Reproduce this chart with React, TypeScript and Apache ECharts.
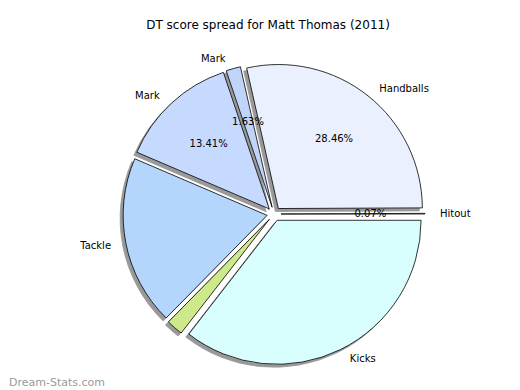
import React, { useEffect, useRef } from "react";
import * as echarts from "echarts";

const TITLE = "DT score spread for Matt Thomas (2011)";
const WATERMARK = "Dream-Stats.com";
const categories = ["Hitout", "Handballs", "Mark", "Mark", "Tackle", "Free kick", "Kicks"];
const values = [0.07, 28.46, 1.63, 13.41, 19.06, 1.87, 35.5];
const colors = ["#FFFFFF", "#EAF0FD", "#C0D4F8", "#C6D9FF", "#B4D6FD", "#CDE98C", "#D9FEFE"];
const showName = [true, true, true, true, true, false, true];
const showPct = [true, true, true, true, false, false, false];

const CENTER: [number, number] = [266, 206];
const R = 144;
const EXPLODE = 7;

export default function App() {
  const ref = useRef<HTMLDivElement>(null);
  useEffect(() => {
    if (!ref.current) return;
    const chart = echarts.init(ref.current, undefined, { renderer: "svg" });
    const font = "DejaVu Sans, sans-serif";
    const mainData = categories.map((name, i) => ({
      name,
      value: values[i],
      selected: true,
      itemStyle: { color: colors[i] },
      label: { show: showName[i] },
    }));
    const pctData = categories.map((name, i) => ({
      name,
      value: values[i],
      selected: true,
      label: { show: showPct[i] },
    }));
    chart.setOption({
      animation: false,
      backgroundColor: "#ffffff",
      title: {
        text: TITLE,
        left: "center",
        top: 6,
        textStyle: { fontFamily: font, fontSize: 12, fontWeight: "normal", color: "#000" },
      },
      graphic: [
        {
          type: "text",
          left: 1,
          top: 369,
          style: { text: WATERMARK, fontFamily: font, fontSize: 11, fill: "#999999" },
        },
      ],
      series: [
        {
          type: "pie",
          center: CENTER,
          radius: R,
          startAngle: 0,
          clockwise: false,
          minAngle: 0,
          avoidLabelOverlap: false,
          selectedMode: "multiple",
          selectedOffset: EXPLODE,
          silent: true,
          itemStyle: {
            borderColor: "#000",
            borderWidth: 0.8,
            shadowBlur: 0,
            shadowOffsetX: -3,
            shadowOffsetY: 3,
            shadowColor: "rgba(0,0,0,0.4)",
          },
          label: {
            position: "outside",
            formatter: "{b}",
            fontFamily: font,
            fontSize: 10,
            color: "#000",
          },
          labelLine: { show: false, length: 10, length2: 0 },
          data: mainData,
        },
        {
          type: "pie",
          center: CENTER,
          radius: R * 1.2,
          startAngle: 0,
          clockwise: false,
          minAngle: 0,
          avoidLabelOverlap: false,
          selectedMode: "multiple",
          selectedOffset: EXPLODE,
          silent: true,
          itemStyle: { color: "rgba(0,0,0,0)", borderWidth: 0 },
          label: {
            position: "inner",
            formatter: (p: any) => p.value.toFixed(2) + "%",
            fontFamily: font,
            fontSize: 10,
            color: "#000",
          },
          labelLine: { show: false },
          data: pctData,
        },
      ],
    });
    return () => chart.dispose();
  }, []);
  return <div ref={ref} style={{ width: 520, height: 390 }} />;
}
